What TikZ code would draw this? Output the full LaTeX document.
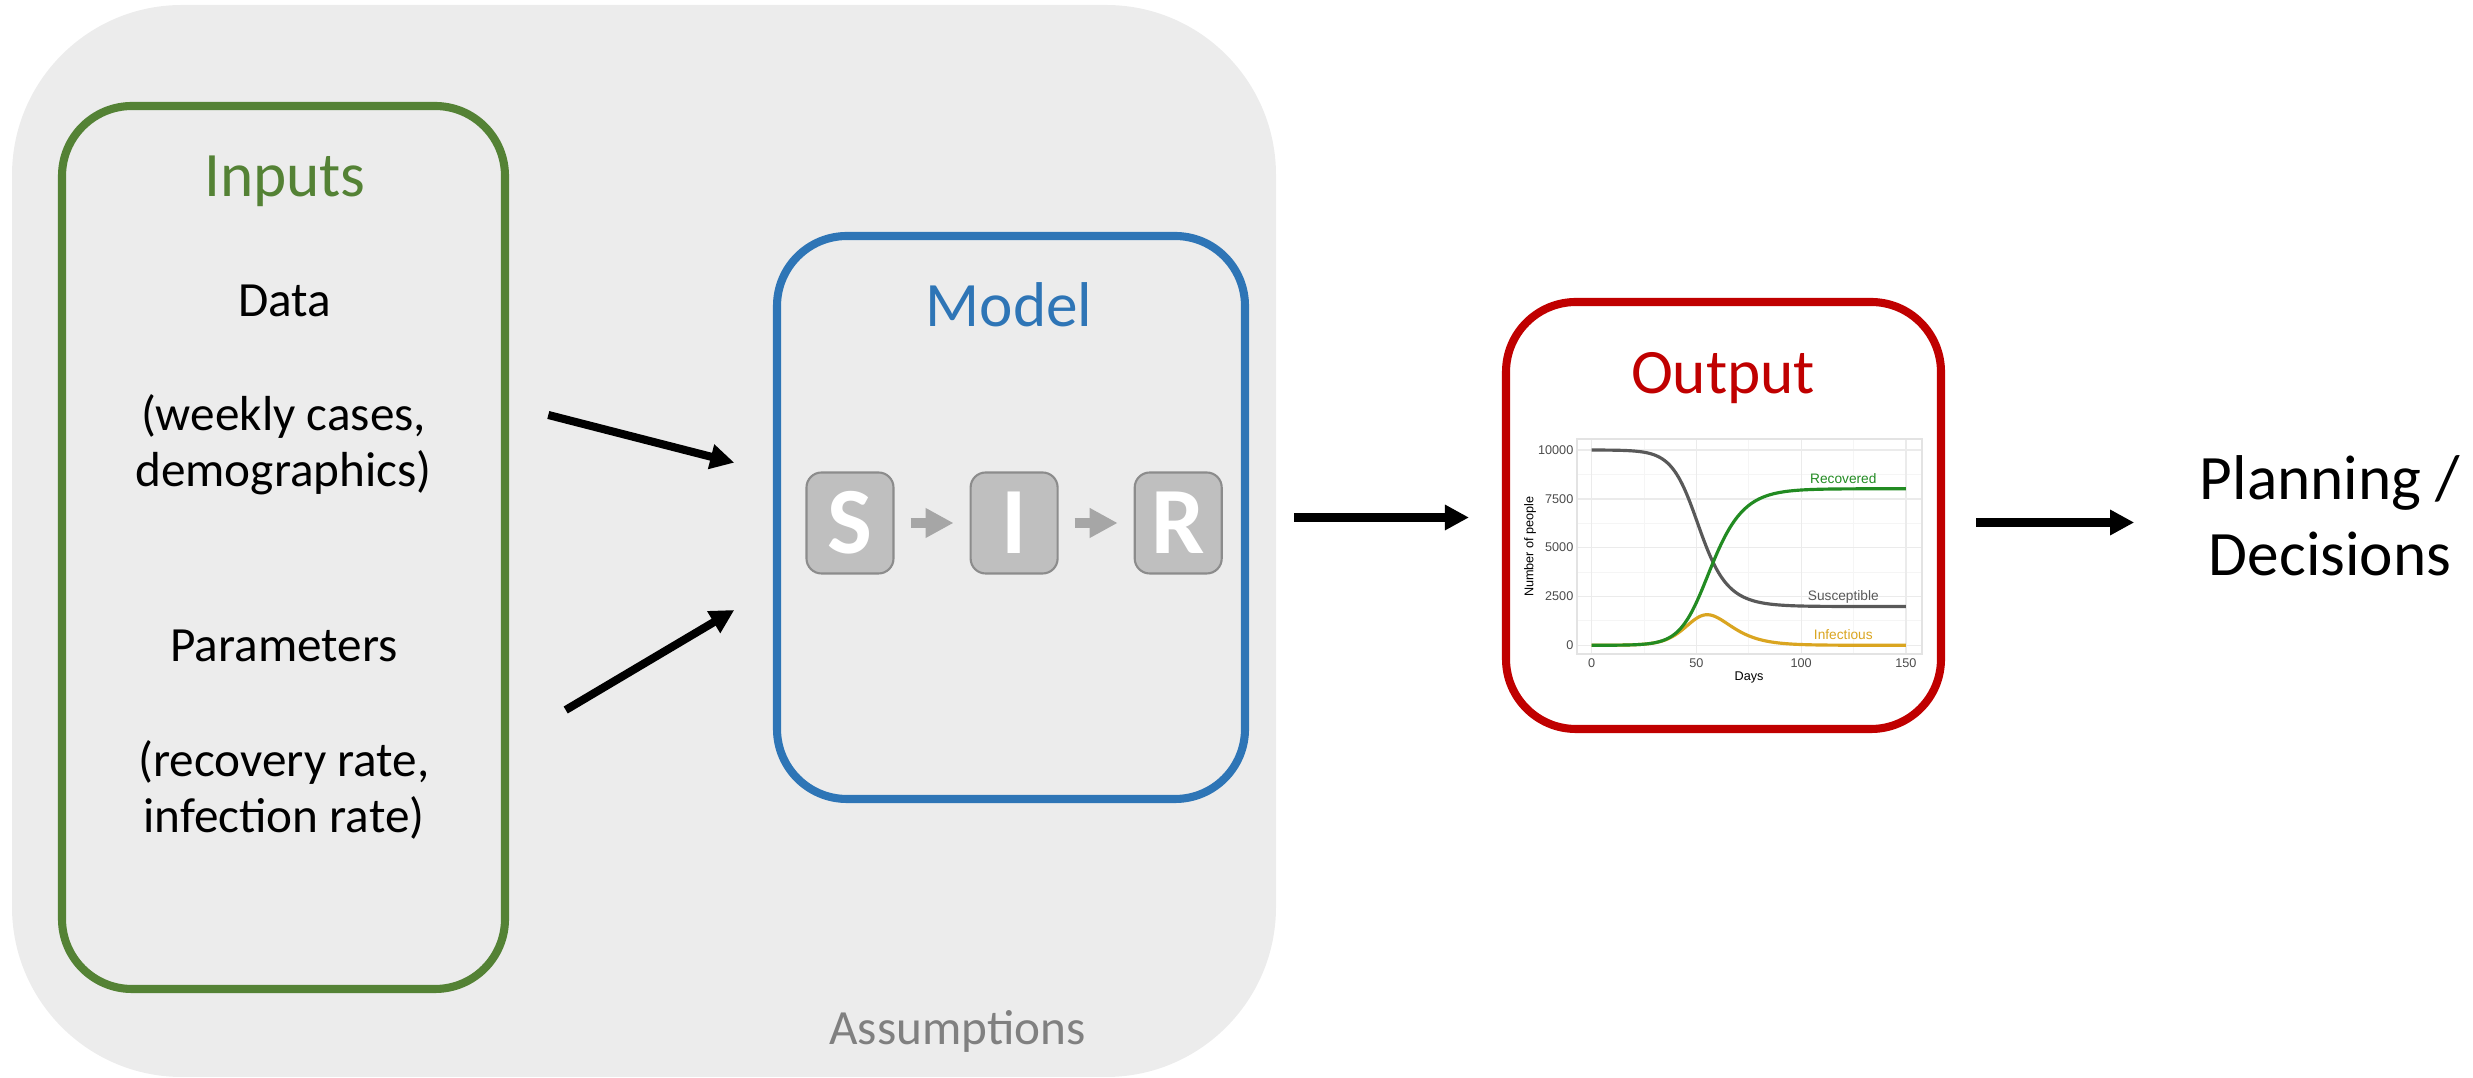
\documentclass[tikz,border=0pt]{standalone}
\usepackage{fontspec}
\setmainfont{Carlito}
\newfontfamily\plotfont{Liberation Sans}
\usepackage{xcolor}
\usetikzlibrary{arrows.meta,positioning}

\definecolor{bggray}{HTML}{ECECEC}
\definecolor{inputgreen}{HTML}{548235}
\definecolor{modelblue}{HTML}{2E75B6}
\definecolor{outputred}{HTML}{C00000}
\definecolor{sirfill}{HTML}{BFBFBF}
\definecolor{sirline}{HTML}{8C8C8C}
\definecolor{sirarrowgray}{HTML}{A6A6A6}
\definecolor{assumegray}{HTML}{808080}
\definecolor{susgray}{HTML}{595959}
\definecolor{infgold}{HTML}{DAA520}
\definecolor{recgreen}{HTML}{228B22}
\definecolor{gridmajor}{HTML}{EBEBEB}
\definecolor{gridminor}{HTML}{F5F5F5}

\begin{document}
\begin{tikzpicture}[
    panel/.style={rectangle, rounded corners=0.7cm, line width=2.3pt},
    title/.style={font=\fontsize{18}{21}\selectfont, anchor=base, inner sep=0pt},
    body/.style={font=\fontsize{14}{16}\selectfont, align=center, anchor=base, inner sep=0pt},
    sirbox/.style={rectangle, rounded corners=0.15cm, draw=sirline, line width=0.6pt,
                   fill=sirfill, minimum width=0.87cm, minimum height=1.01cm,
                   text=white, font=\fontsize{27}{30}\selectfont\bfseries},
    sirarrow/.style={-{Triangle[length=0.28cm, width=0.28cm]}, line width=0.093cm,
                     draw=sirarrowgray, shorten <=0.16cm, shorten >=0.16cm},
    arrow/.style={-{Triangle[length=0.24cm, width=0.24cm]}, line width=2.3pt},
    ticklabel/.style={font=\plotfont\fontsize{3.6}{4}\selectfont, text=black!70, inner sep=0pt},
    axistitle/.style={font=\plotfont\fontsize{3.6}{4}\selectfont, inner sep=0pt},
    curvelabel/.style={font=\plotfont\fontsize{3.9}{4.5}\selectfont, inner sep=0pt}
]
\useasboundingbox (0,0) rectangle (24.73,-10.78);

% background: assumptions
\node[rectangle, rounded corners=1.7cm, fill=bggray, minimum width=12.64cm,
      minimum height=10.72cm] (assume) at (6.44,-5.41) {};
\node[font=\fontsize{14}{16}\selectfont, text=assumegray, anchor=base, inner sep=0pt]
      (assumelab) at (9.575,-10.45) {Assumptions};

% inputs (base of a two-line node is its last line)
\node[panel, draw=inputgreen, minimum width=4.43cm, minimum height=8.83cm] (inputs) at (2.835,-5.475) {};
\node[title, text=inputgreen] (inputstitle) at (2.85,-1.97) {Inputs};
\node[body] (data) at (2.845,-3.167) {Data};
\node[body] (datanote) at (2.835,-4.87) {(weekly cases,\\demographics)};
\node[body] (params) at (2.84,-6.617) {Parameters};
\node[body] (paramsnote) at (2.84,-8.33) {(recovery rate,\\infection rate)};

% model
\node[panel, draw=modelblue, minimum width=4.68cm, minimum height=5.63cm] (model) at (10.11,-5.175) {};
\node[title, text=modelblue] (modeltitle) at (10.09,-3.27) {Model};
\node[sirbox] (S) at (8.50,-5.23) {S};
\node[sirbox, right=0.75cm of S] (I) {I};
\node[sirbox, right=0.75cm of I] (R) {R};
\draw[sirarrow] (S) -- (I);
\draw[sirarrow] (I) -- (R);

% output
\node[panel, draw=outputred, fill=white, minimum width=4.35cm, minimum height=4.27cm] (output) at (17.235,-5.155) {};
\node[title, text=outputred] (outputtitle) at (17.23,-3.94) {Output};

% decisions
\node[font=\fontsize{18}{21.7}\selectfont, align=center, anchor=base, inner sep=0pt]
      (decide) at (23.30,-5.757) {Planning /\\Decisions};

% arrows
\coordinate (datatail) at (5.483,-4.15);
\coordinate (datahead) at (7.343,-4.627);
\coordinate (paramtail) at (5.657,-7.10);
\coordinate (paramhead) at (7.343,-6.10);
\draw[arrow] (datatail) -- (datahead);
\draw[arrow] (paramtail) -- (paramhead);
\draw[arrow, shorten <=0.45cm, shorten >=0.33cm] (model.east) -- (model.east -| output.west);
\draw[arrow, shorten <=0.31cm, shorten >=0.65cm] ([yshift=-0.7mm]output.east) -- ([yshift=-0.7mm]output.east -| decide.west);

% SIR curves, Euler steps of half a day (values kept in thousands for drawing)
\def\simS{9999}\def\simI{1}\def\simR{0}
\def\curveS{(0,9.999)}\def\curveI{(0,0.001)}\def\curveR{(0,0)}
\foreach \k in {1,...,300}{
  \pgfmathsetmacro\newinf{0.17*\simS/10000*\simI}
  \pgfmathsetmacro\newrec{0.085*\simI}
  \pgfmathsetmacro\nS{\simS-\newinf}
  \pgfmathsetmacro\nI{\simI+\newinf-\newrec}
  \pgfmathsetmacro\nR{\simR+\newrec}
  \xdef\simS{\nS}\xdef\simI{\nI}\xdef\simR{\nR}
  \pgfmathsetmacro\tday{\k/2}
  \pgfmathsetmacro\yS{\nS/1000}
  \pgfmathsetmacro\yI{\nI/1000}
  \pgfmathsetmacro\yR{\nR/1000}
  \xdef\curveS{\curveS -- (\tday,\yS)}
  \xdef\curveI{\curveI -- (\tday,\yI)}
  \xdef\curveR{\curveR -- (\tday,\yR)}
}

\begin{scope}[shift={(15.917,-6.453)}, x=0.020953cm, y=0.1953cm]
  \foreach \gx in {25,75,125} \draw[gridminor, line width=0.3pt] (\gx,-0.45) -- (\gx,10.56);
  \foreach \gy in {1.25,3.75,6.25,8.75} \draw[gridminor, line width=0.3pt] (-7,\gy) -- (157.6,\gy);
  \foreach \gx in {0,50,100,150} \draw[gridmajor, line width=0.4pt] (\gx,-0.45) -- (\gx,10.56);
  \foreach \gy in {0,2.5,5,7.5,10} \draw[gridmajor, line width=0.4pt] (-7,\gy) -- (157.6,\gy);
  \draw[gray!22, line width=0.35pt] (-7,-0.45) rectangle (157.6,10.56);
  \foreach \v/\lab in {0/0,2.5/2500,5/5000,7.5/7500,10/10000}
    \node[ticklabel, anchor=east] (ylab\lab) at (-8.45,\v) {\lab};
  \foreach \d in {0,50,100,150}
    \node[ticklabel] (xlab\d) at (\d,-0.92) {\d};
  \node[axistitle] (daystitle) at (75.1,-1.64) {Days};
  \node[axistitle, rotate=90] (peopletitle) at (-29.4,5.05) {Number of people};
  \draw[susgray, line width=0.9pt, line join=round] \curveS;
  \draw[infgold, line width=0.9pt, line join=round] \curveI;
  \draw[recgreen, line width=0.9pt, line join=round] \curveR;
  \node[curvelabel, text=recgreen] (reclab) at (120.1,8.55) {Recovered};
  \node[curvelabel, text=susgray] (suslab) at (120.1,2.47) {Susceptible};
  \node[curvelabel, text=infgold] (inflab) at (120.1,0.54) {Infectious};
\end{scope}
\end{tikzpicture}
\end{document}
